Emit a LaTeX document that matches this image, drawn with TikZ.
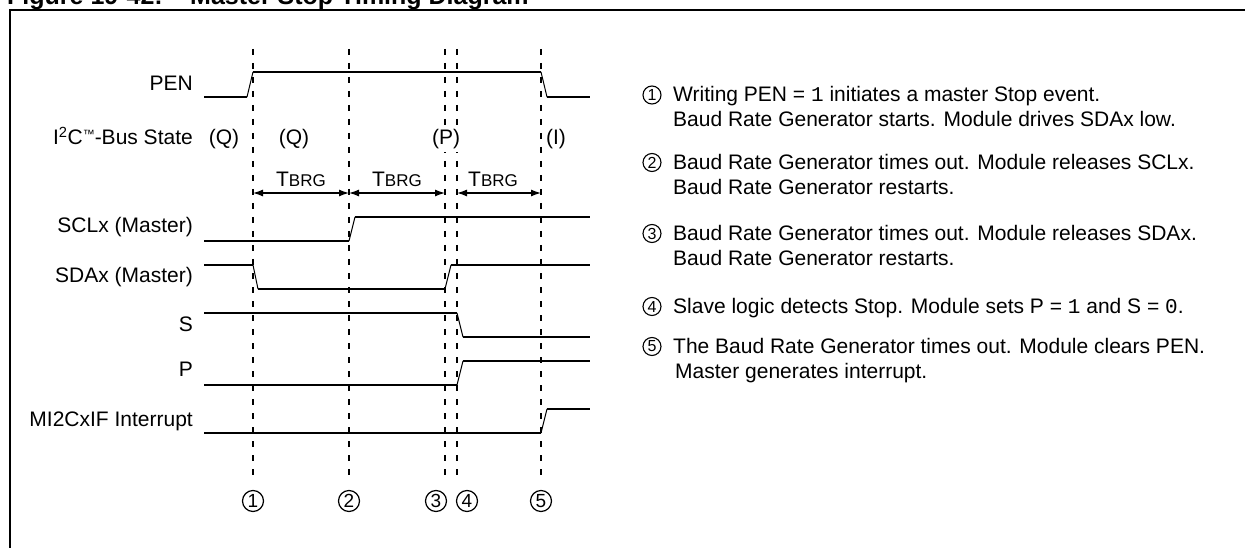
\documentclass[tikz,border=0pt]{standalone}
\usepackage{fontspec}
\setmainfont{Liberation Sans}
\newfontfamily\monofont{Liberation Mono}
\usetikzlibrary{arrows.meta}
\newcommand{\mono}[1]{{\monofont #1}}
\newcommand{\tbrg}{T{\fontsize{17}{17}\selectfont BRG}}
\begin{document}
\begin{tikzpicture}[x=1pt,y=-1pt,
  sig/.style={line width=1.9pt},
  edge/.style={line width=1pt},
  guide/.style={line width=1.8pt, dash pattern=on 6pt off 8pt},
  frame/.style={line width=2pt},
  lbl/.style={anchor=base east, inner sep=0pt, font=\fontsize{21}{25}\selectfont},
  mid/.style={anchor=base, inner sep=0pt, font=\fontsize{21}{25}\selectfont},
  txt/.style={anchor=base west, inner sep=0pt, font=\fontsize{21}{25}\selectfont},
  ttl/.style={anchor=base west, inner sep=0pt, font=\bfseries\fontsize{25}{30}\selectfont},
  circ/.style={circle, draw, line width=1.2pt, inner sep=0pt, minimum size=21pt, font=\fontsize{19}{19}\selectfont},
  circs/.style={circle, draw, line width=1.1pt, inner sep=0pt, minimum size=18pt, font=\fontsize{16}{16}\selectfont},
  tarrow/.style={line width=1.3pt, {Latex[length=10pt,width=7pt]}-{Latex[length=10pt,width=7pt]}}
]
\useasboundingbox (0,0) rectangle (1245,548);
\fill[white] (0,0) rectangle (1245,548);

% title (partly cut off by the page edge)
\node[ttl] (t1) at (7,4.5) {Figure 19-42:};
\node[ttl] (t2) at (190,4.5) {Master Stop Timing Diagram};

% frame
\draw[frame] (9.5,560) -- (9.5,10) -- (1260,10);

% guide lines
\foreach \n/\x in {1/253,2/349,3/445,4/457,5/541}{
  \coordinate (g\n t) at (\x,49);
  \coordinate (g\n b) at (\x,482);
  \coordinate (a\n) at (\x,193);
  \draw[guide] (g\n t) -- (g\n b);
}

% row labels
\node[lbl] (lpen) at (193,91) {PEN};
\node[lbl] (lbus) at (193,145) {I\textsuperscript{2}C{\fontsize{12}{12}\selectfont\raisebox{6pt}{™}}-Bus State};
\node[lbl] (lscl) at (193,233) {SCLx (Master)};
\node[lbl] (lsda) at (193,283) {SDAx (Master)};
\node[lbl] (ls) at (193,331) {S};
\node[lbl] (lp) at (193,376) {P};
\node[lbl] (lmi) at (193,426) {MI2CxIF Interrupt};

% bus states
\node[mid] (q1) at (224,145) {(Q)};
\node[mid] (q2) at (294,145) {(Q)};
\node[mid, fill=white, inner ysep=3pt, inner xsep=1pt] (pp) at (446,145) {(P)};
\node[mid] (ii) at (556,145) {(I)};

% TBRG
\node[mid] (tb1) at (301,187) {\tbrg};
\node[mid] (tb2) at (397,187) {\tbrg};
\node[mid] (tb3) at (493,187) {\tbrg};
\draw[tarrow] (a1) -- (a2);
\draw[tarrow] (a2) -- (a3);
\draw[tarrow] (a4) -- (a5);

% PEN
\draw[sig] (204,97) -- (247,97);
\draw[edge] (247,97) -- (253,72);
\draw[sig] (253,72) -- (541,72);
\draw[edge] (541,72) -- (547,97);
\draw[sig] (547,97) -- (590,97);
% SCLx
\draw[sig] (204,241) -- (349,241);
\draw[edge] (349,241) -- (355,217);
\draw[sig] (355,217) -- (590,217);
% SDAx
\draw[sig] (204,265) -- (253,265);
\draw[edge] (253,265) -- (258,289);
\draw[sig] (258,289) -- (445,289);
\draw[edge] (445,289) -- (451,265);
\draw[sig] (451,265) -- (590,265);
% S
\draw[sig] (204,313) -- (457,313);
\draw[edge] (457,313) -- (463,337);
\draw[sig] (463,337) -- (590,337);
% P
\draw[sig] (204,385) -- (457,385);
\draw[edge] (457,385) -- (463,361);
\draw[sig] (463,361) -- (590,361);
% MI2CxIF
\draw[sig] (204,433) -- (541,433);
\draw[edge] (541,433) -- (547,409);
\draw[sig] (547,409) -- (590,409);

% event numbers
\node[circ] (c1) at (253,501) {1};
\node[circ] (c2) at (349,501) {2};
\node[circ] (c3) at (436,501) {3};
\node[circ] (c4) at (467,501) {4};
\node[circ] (c5) at (541,501) {5};

% notes
\node[circs] (n1) at (652,95) {1};
\node[txt] (n1a) at (673,102) {Writing PEN = \mono{1} initiates a master Stop event.};
\node[txt] (n1b) at (673,126.5) {Baud Rate Generator starts. Module drives SDAx low.};
\node[circs] (n2) at (652,162.5) {2};
\node[txt] (n2a) at (673,169.5) {Baud Rate Generator times out. Module releases SCLx.};
\node[txt] (n2b) at (673,194.5) {Baud Rate Generator restarts.};
\node[circs] (n3) at (652,233.5) {3};
\node[txt] (n3a) at (673,240.5) {Baud Rate Generator times out. Module releases SDAx.};
\node[txt] (n3b) at (673,265.5) {Baud Rate Generator restarts.};
\node[circs] (n4) at (652,306.5) {4};
\node[txt] (n4a) at (673,313.5) {Slave logic detects Stop. Module sets P = \mono{1} and S = \mono{0}.};
\node[circs] (n5) at (652,346.5) {5};
\node[txt] (n5a) at (673,353.5) {The Baud Rate Generator times out. Module clears PEN.};
\node[txt] (n5b) at (675,378.5) {Master generates interrupt.};
\end{tikzpicture}
\end{document}
